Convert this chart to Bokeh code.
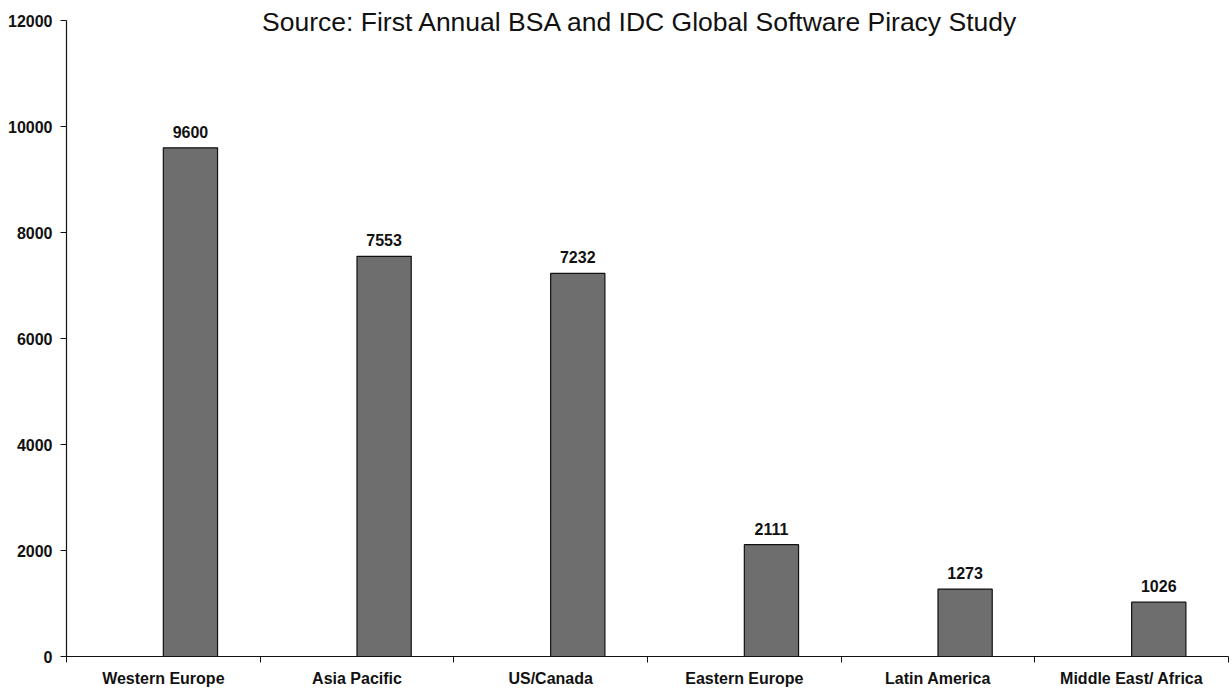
from bokeh.plotting import figure
from bokeh.models import ColumnDataSource, FixedTicker, LabelSet, Label, Range1d
from bokeh.core.properties import value
from bokeh.embed import file_html
from bokeh.resources import INLINE

# Software piracy losses by region (US$ millions)
regions = ["Western Europe", "Asia Pacific", "US/Canada", "Eastern Europe",
           "Latin America", "Middle East/ Africa"]
losses = [9600, 7553, 7232, 2111, 1273, 1026]
y_ticks = [0, 2000, 4000, 6000, 8000, 10000, 12000]
source_note = "Source: First Annual BSA and IDC Global Software Piracy Study"

Y_MAX = 12000
Y_TOP = 12380   # a little headroom above the axis for the source line

BAR_W = 0.28
centers = [i + 0.5 for i in range(len(regions))]
bar_x = [c + BAR_W / 2 for c in centers]

source = ColumnDataSource(dict(
    x=bar_x, top=losses, label=[str(v) for v in losses]))

p = figure(width=1232, height=693, output_backend="svg", toolbar_location=None,
           x_range=Range1d(0, len(regions)), y_range=Range1d(0, Y_TOP),
           min_border_left=66, min_border_right=4, min_border_top=0,
           min_border_bottom=37)
p.outline_line_color = None
p.xgrid.visible = False
p.ygrid.visible = False
p.background_fill_color = "white"
p.border_fill_color = "white"

p.vbar(x="x", top="top", width=BAR_W, bottom=0, source=source,
       fill_color="#6e6e6e", line_color="#111111", line_width=1.2)

lab = LabelSet(x="x", y="top", text="label", source=source, y_offset=10,
               text_align="center", text_baseline="bottom",
               text_font=value("Liberation Sans"), text_font_style="bold",
               text_font_size=value("16px"), text_color="#111111")
p.add_layout(lab)

# source line sits right on the top of the value axis
note = Label(x=1.01, y=Y_MAX, y_offset=-1, text=source_note, text_align="left",
             text_baseline="alphabetic", text_font="Liberation Sans",
             text_font_size="26.5px", text_color="#111111")
p.add_layout(note)

# x axis: names at the category centres, tick marks on the boundaries
xt = FixedTicker(ticks=centers, minor_ticks=list(range(len(regions) + 1)))
p.xaxis.ticker = xt
p.xaxis.major_label_overrides = {c: r for c, r in zip(centers, regions)}
p.xaxis.major_tick_out = 0
p.xaxis.major_tick_in = 0
p.xaxis.minor_tick_out = 6
p.xaxis.minor_tick_in = 0
p.xaxis.minor_tick_line_color = "#111111"
p.xaxis.axis_line_color = "#111111"
p.xaxis.axis_line_width = 1.2
p.xaxis.major_label_standoff = 7

p.yaxis.ticker = FixedTicker(ticks=y_ticks, minor_ticks=[])
p.yaxis.bounds = (0, Y_MAX)
p.yaxis.major_tick_out = 6
p.yaxis.major_tick_in = 0
p.yaxis.major_tick_line_color = "#111111"
p.yaxis.axis_line_color = "#111111"
p.yaxis.axis_line_width = 1.2
p.yaxis.major_label_standoff = 8

for ax in (p.xaxis, p.yaxis):
    ax.major_label_text_font = "Liberation Sans"
    ax.major_label_text_font_style = "bold"
    ax.major_label_text_font_size = "16px"
    ax.major_label_text_color = "#111111"

open("out.html", "w").write(file_html(p, INLINE))
